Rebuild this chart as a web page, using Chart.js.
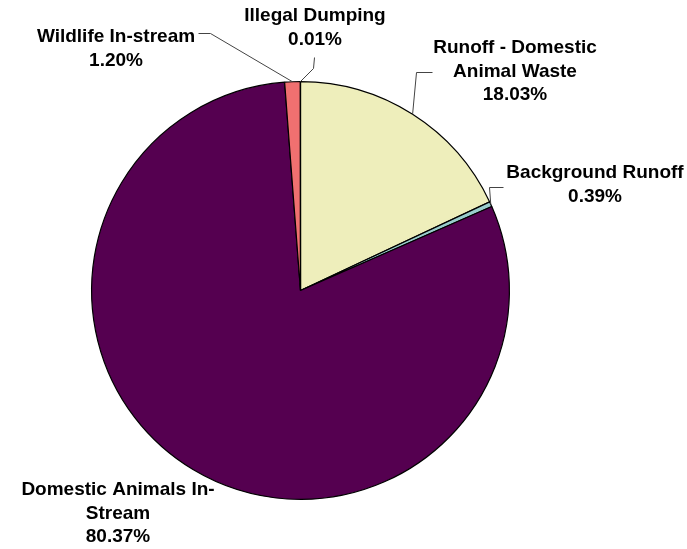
<!DOCTYPE html>
<html><head><meta charset="utf-8">
<script src="https://cdn.jsdelivr.net/npm/chart.js@4/dist/chart.umd.min.js"></script>
<style>html,body{margin:0;padding:0;background:#fff;}#wrap{width:687px;height:549px;position:relative;}</style>
</head><body><div id="wrap"><canvas id="c" width="687" height="549"></canvas></div>
<script>
const categories = ["Runoff - Domestic Animal Waste", "Background Runoff", "Domestic Animals In-Stream", "Wildlife In-stream", "Illegal Dumping"];
const values = [18.03, 0.39, 80.37, 1.20, 0.01];
const valueLabels = ["18.03%", "0.39%", "80.37%", "1.20%", "0.01%"];
const colors = ["#EEEEBB", "#99CCCC", "#550050", "#F07070", "#F07070"];

// label layout: text lines, text center x, first line y, leader elbow points
const labelLayout = [
  {lines:["Runoff - Domestic","Animal Waste"], x:515, y:48, path:[[416,72],[432,72]]},
  {lines:["Background Runoff"], x:595, y:173, path:[[489,187],[503,187]]},
  {lines:["Domestic Animals In-","Stream"], x:118, y:490, path:null},
  {lines:["Wildlife In-stream"], x:116, y:37, path:[[210,33],[198,33]]},
  {lines:["Illegal Dumping"], x:315, y:16, path:[[313,68],[314,57]]}
];

const labelPlugin = {
  id:'labels',
  afterDraw(chart){
    const ctx = chart.ctx;
    const meta = chart.getDatasetMeta(0);
    ctx.save();
    meta.data.forEach((arc,i)=>{
      const L = labelLayout[i];
      if (L.path){
        const mid = (arc.startAngle + arc.endAngle)/2;
        const sx = arc.x + Math.cos(mid)*arc.outerRadius;
        const sy = arc.y + Math.sin(mid)*arc.outerRadius;
        ctx.beginPath();
        ctx.strokeStyle = '#444';
        ctx.lineWidth = 1;
        ctx.moveTo(sx, sy);
        L.path.forEach(p=>ctx.lineTo(p[0]+0.5,p[1]+0.5));
        ctx.stroke();
      }
      ctx.fillStyle = '#000';
      ctx.font = 'bold 19px "Liberation Sans", Arial, sans-serif';
      ctx.textAlign = 'center';
      ctx.textBaseline = 'middle';
      const lines = L.lines.concat([valueLabels[i]]);
      lines.forEach((t,k)=>ctx.fillText(t, L.x, L.y + k*23.5));
    });
    ctx.restore();
  }
};

new Chart(document.getElementById('c'), {
  type:'pie',
  data:{labels:categories, datasets:[{data:values, backgroundColor:colors, borderColor:'#000', borderWidth:1.2}]},
  options:{
    responsive:false, animation:false,
    layout:{padding:{top:81, bottom:49, left:91, right:177}},
    plugins:{legend:{display:false}, tooltip:{enabled:false}}
  },
  plugins:[labelPlugin]
});
</script></body></html>
